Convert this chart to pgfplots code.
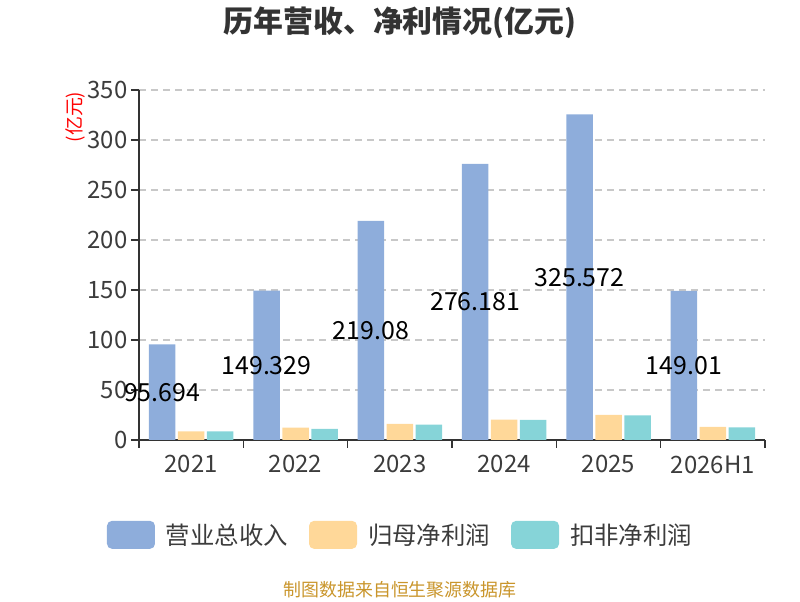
\documentclass[border=0pt]{standalone}
\usepackage{fontspec}
\setmainfont{Noto Sans CJK SC}
\usepackage{pgfplots}
\pgfplotsset{compat=1.18}
\usepackage{pgfplotstable}

\definecolor{cblue}{HTML}{8EADDB}
\definecolor{corange}{HTML}{FFD899}
\definecolor{ccyan}{HTML}{86D4D8}
\definecolor{axgray}{HTML}{333333}
\definecolor{txtgray}{HTML}{3C3C3C}
\definecolor{gridgray}{HTML}{C8C8C8}
\definecolor{foot}{HTML}{C9952B}

\pgfplotstableread{
x rev lbl np dnp
0 95.694 95.694 8.6 8.5
1 149.329 149.329 12.3 11.0
2 219.08 219.08 16.0 15.3
3 276.181 276.181 20.3 20.0
4 325.572 325.572 25.0 24.7
5 149.01 149.01 13.0 12.7
}\data

\begin{document}
\begin{tikzpicture}[x=1bp,y=1bp]
\path (0,0) rectangle (800,600);
\begin{axis}[
  at={(139bp,160bp)}, anchor=south west,
  scale only axis, width=626bp, height=350bp,
  xmin=-0.5, xmax=5.5, ymin=0, ymax=350,
  axis x line*=bottom, axis y line*=left,
  axis line style={draw=axgray, line width=1.3bp, -},
  ytick={0,50,...,350},
  xtick={0,...,5},
  xticklabels={2021,2022,2023,2024,2025,2026H1},
  minor xtick={-0.5,0.5,...,5.5},
  tick align=outside,
  major tick length=8bp, minor tick length=8bp,
  ytick style={draw=axgray, line width=1.3bp},
  major x tick style={draw=none},
  minor x tick style={draw=axgray, line width=1.3bp},
  ymajorgrids,
  grid style={dash pattern=on 7bp off 5bp, draw=gridgray, line width=1.1bp},
  /pgf/number format/assume math mode=true,
  tick label style={font=\fontsize{24}{26}\selectfont, text=txtgray},
  yticklabel style={xshift=0bp},
  xticklabel style={yshift=-4bp},
  legend columns=3,
  legend style={at={(0.425,-0.271)}, anchor=center, draw=none, fill=none,
    font=\fontsize{24.5}{26}\selectfont, text=txtgray,
    nodes={inner xsep=11bp},
    /tikz/every even column/.append style={column sep=10bp}},
  clip=false,
]
\addplot[ybar, fill=cblue, draw=none, bar width=0.254, bar shift=-0.278,
  legend image code/.code={\fill[cblue, rounded corners=5bp] (0bp,-14bp) rectangle (48bp,14bp);}]
  table[x=x, y=rev]{\data};
\addlegendentry{营业总收入}
\addplot[ybar, fill=corange, draw=none, bar width=0.254, bar shift=0,
  legend image code/.code={\fill[corange, rounded corners=5bp] (0bp,-14bp) rectangle (48bp,14bp);}]
  table[x=x, y=np]{\data};
\addlegendentry{归母净利润}
\addplot[ybar, fill=ccyan, draw=none, bar width=0.254, bar shift=0.278,
  legend image code/.code={\fill[ccyan, rounded corners=5bp] (0bp,-14bp) rectangle (48bp,14bp);}]
  table[x=x, y=dnp]{\data};
\addlegendentry{扣非净利润}
\addplot[forget plot, only marks, mark=none, nodes near coords,
  point meta=explicit symbolic,
  every node near coord/.style={anchor=center, font=\fontsize{25}{27}\selectfont, text=black, inner sep=0pt}]
  table[x expr=\thisrow{x}-0.278, y expr=\thisrow{rev}/2, meta=lbl]{\data};
\end{axis}
\node[font=\fontsize{30}{32}\selectfont\bfseries, text=axgray] at (400,577) {历年营收、净利情况(亿元)};
\node[font=\fontsize{19}{21}\selectfont, text=red, rotate=90] at (75,483) {(亿元)};
\node[font=\fontsize{18}{20}\selectfont, text=foot] at (400,10) {制图数据来自恒生聚源数据库};
\end{tikzpicture}
\end{document}
